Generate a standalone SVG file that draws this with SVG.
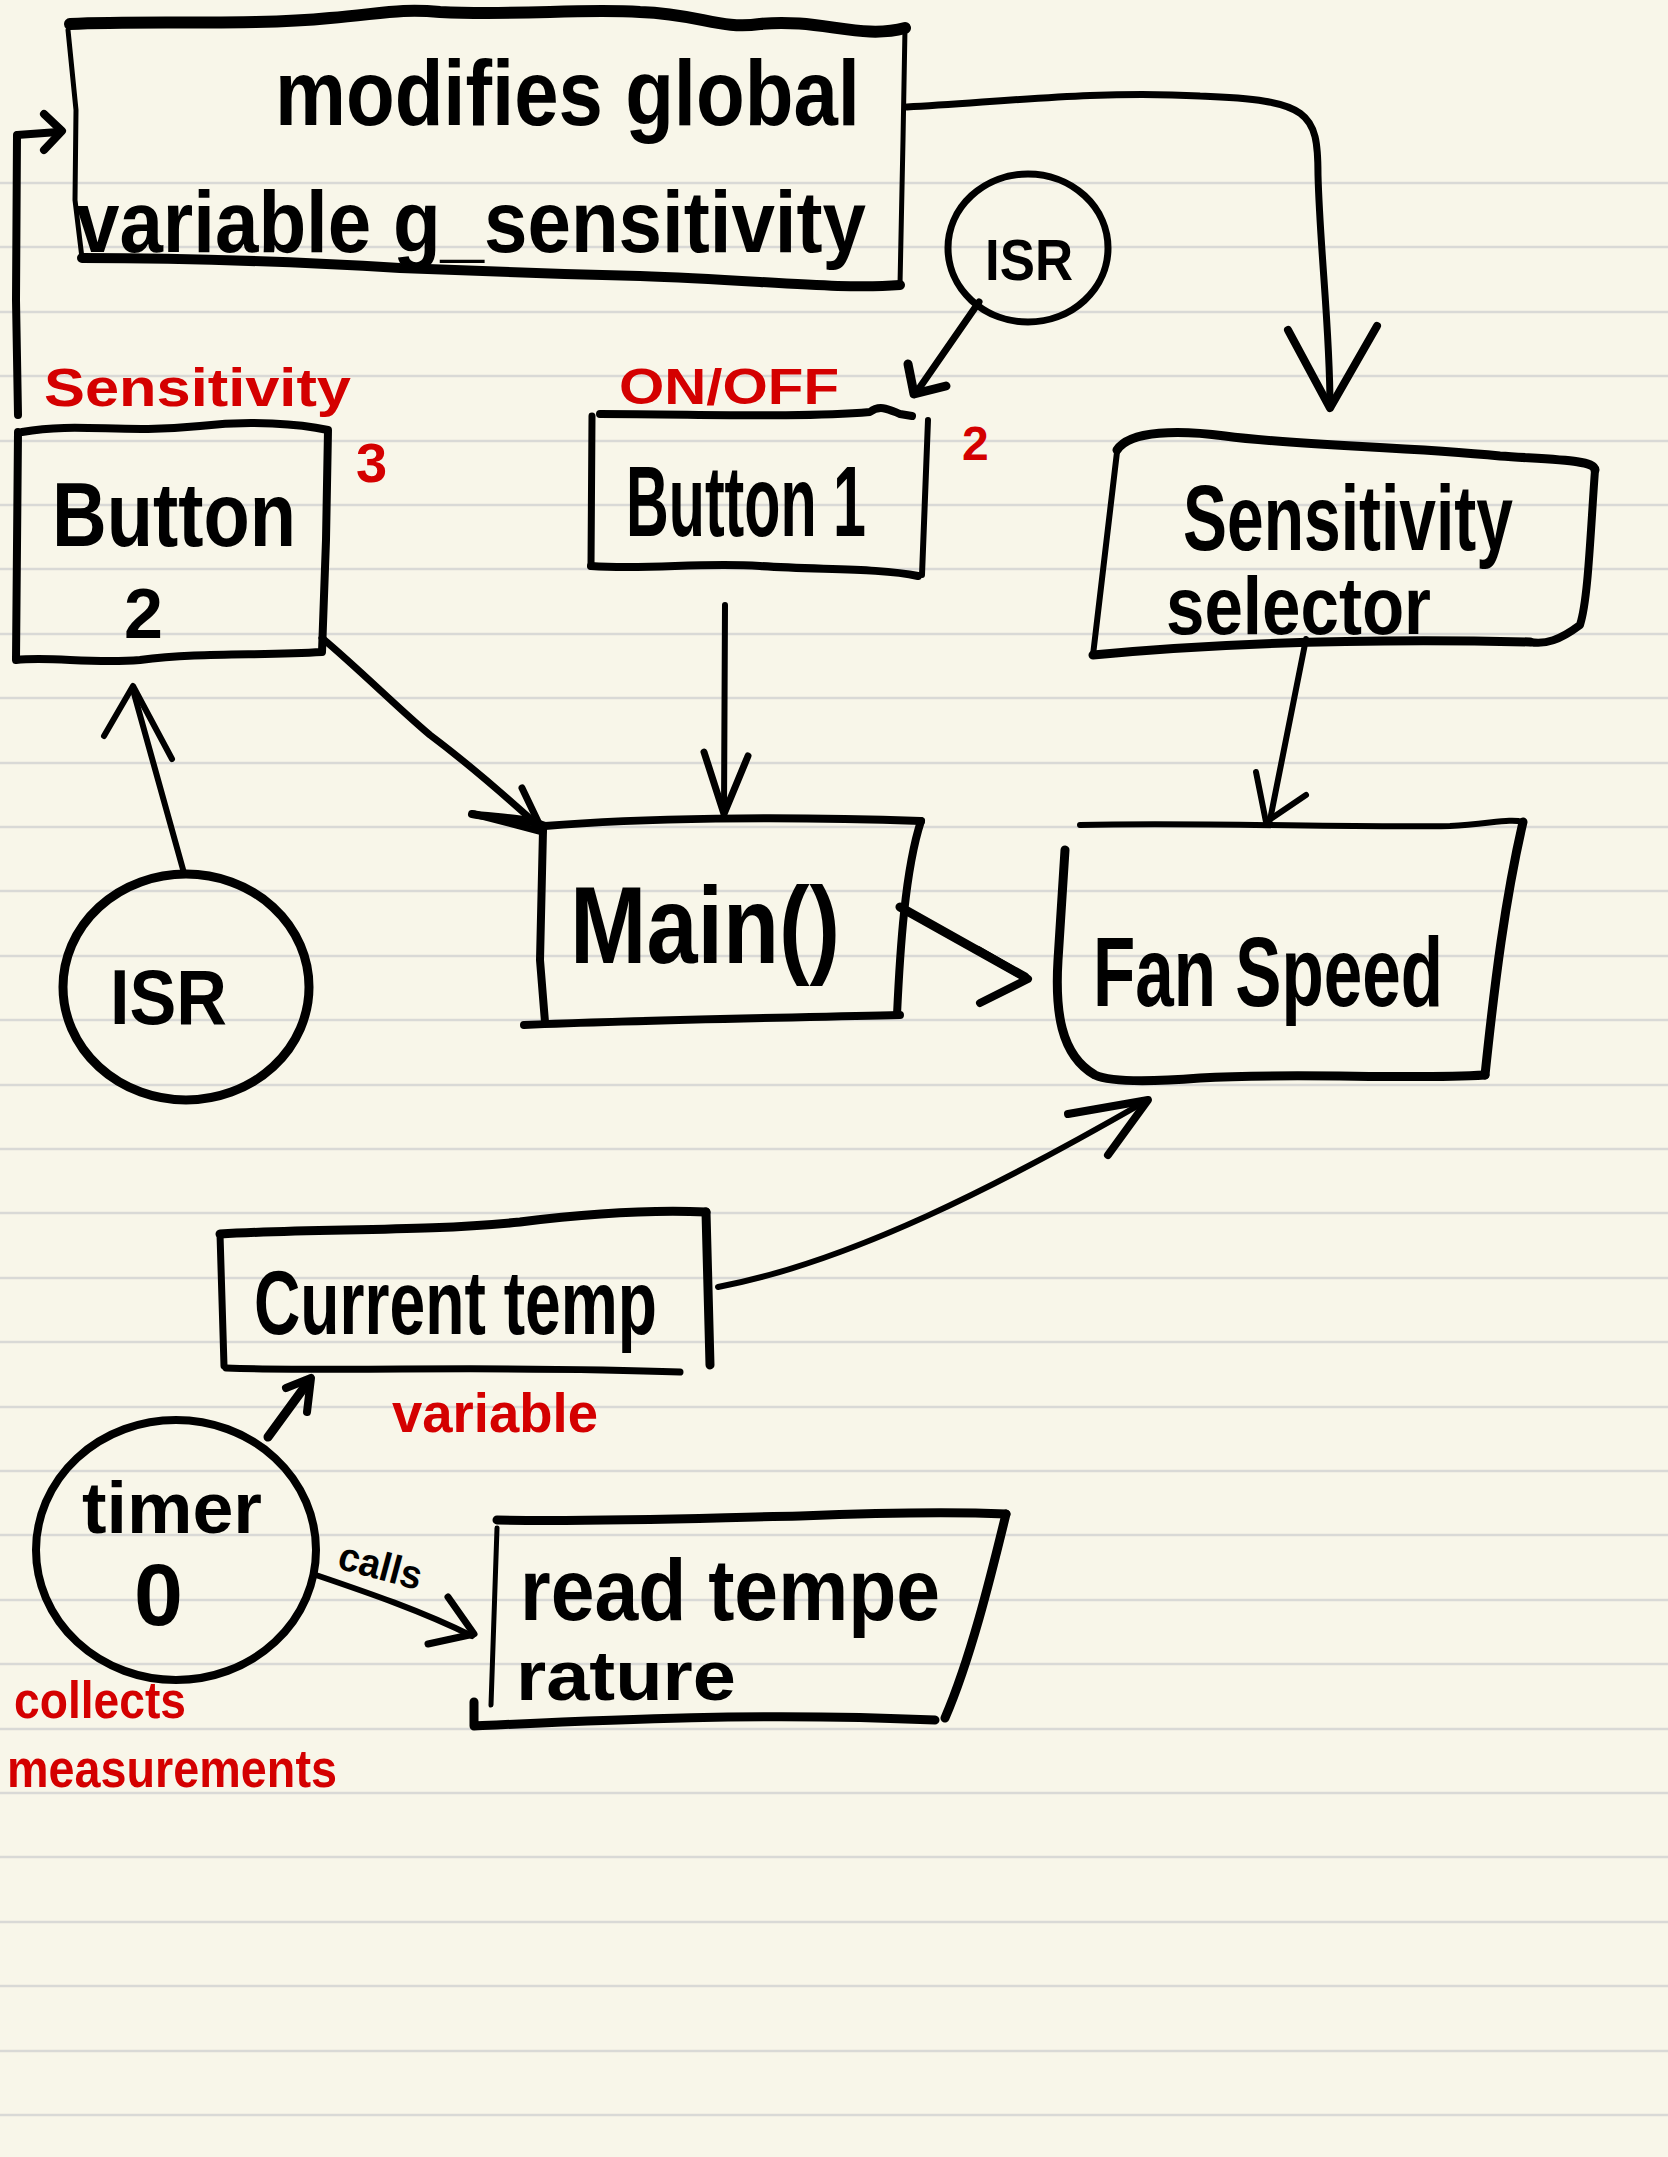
<svg xmlns="http://www.w3.org/2000/svg" width="1668" height="2157" viewBox="0 0 1668 2157">
<style>
.ln{stroke:#d9d9d6;stroke-width:2.5}
.s{fill:none;stroke:#000;stroke-linecap:round;stroke-linejoin:round}
.t{font-family:"Liberation Sans",Arial,sans-serif;fill:#000;font-weight:bold}
.r{font-family:"Liberation Sans",Arial,sans-serif;fill:#d40000;font-weight:bold}
</style>
<rect width="1668" height="2157" fill="#f8f6e9"/>
<g id="paper-lines">
<line class="ln" x1="0" y1="183" x2="1668" y2="183"/><line class="ln" x1="0" y1="247" x2="1668" y2="247"/><line class="ln" x1="0" y1="312" x2="1668" y2="312"/><line class="ln" x1="0" y1="376" x2="1668" y2="376"/><line class="ln" x1="0" y1="441" x2="1668" y2="441"/><line class="ln" x1="0" y1="505" x2="1668" y2="505"/><line class="ln" x1="0" y1="569" x2="1668" y2="569"/><line class="ln" x1="0" y1="634" x2="1668" y2="634"/><line class="ln" x1="0" y1="698" x2="1668" y2="698"/><line class="ln" x1="0" y1="763" x2="1668" y2="763"/><line class="ln" x1="0" y1="827" x2="1668" y2="827"/><line class="ln" x1="0" y1="891" x2="1668" y2="891"/><line class="ln" x1="0" y1="956" x2="1668" y2="956"/><line class="ln" x1="0" y1="1020" x2="1668" y2="1020"/><line class="ln" x1="0" y1="1085" x2="1668" y2="1085"/><line class="ln" x1="0" y1="1149" x2="1668" y2="1149"/><line class="ln" x1="0" y1="1213" x2="1668" y2="1213"/><line class="ln" x1="0" y1="1278" x2="1668" y2="1278"/><line class="ln" x1="0" y1="1342" x2="1668" y2="1342"/><line class="ln" x1="0" y1="1407" x2="1668" y2="1407"/><line class="ln" x1="0" y1="1471" x2="1668" y2="1471"/><line class="ln" x1="0" y1="1535" x2="1668" y2="1535"/><line class="ln" x1="0" y1="1600" x2="1668" y2="1600"/><line class="ln" x1="0" y1="1664" x2="1668" y2="1664"/><line class="ln" x1="0" y1="1729" x2="1668" y2="1729"/><line class="ln" x1="0" y1="1793" x2="1668" y2="1793"/><line class="ln" x1="0" y1="1857" x2="1668" y2="1857"/><line class="ln" x1="0" y1="1922" x2="1668" y2="1922"/><line class="ln" x1="0" y1="1986" x2="1668" y2="1986"/><line class="ln" x1="0" y1="2051" x2="1668" y2="2051"/><line class="ln" x1="0" y1="2115" x2="1668" y2="2115"/>
</g>
<g id="connectors">
<path class="s" stroke-width="8" d="M18,415 L16,300 L17,135 L58,132"/>
<path class="s" stroke-width="8" d="M44,114 L62,131 L44,150"/>
<path class="s" stroke-width="7" d="M907,107 C1000,102 1100,90 1200,96 C1310,100 1318,112 1318,175 C1320,250 1330,330 1330,406"/>
<path class="s" stroke-width="8" d="M1288,330 L1330,408 L1377,326"/>
<path class="s" stroke-width="7" d="M979,302 L918,390"/>
<path class="s" stroke-width="9" d="M908,364 L914,394 L946,386"/>
<path class="s" stroke-width="6" d="M725,605 L724,812"/>
<path class="s" stroke-width="7" d="M704,752 L724,814 L748,756"/>
<path class="s" stroke-width="7" d="M322,638 C360,670 400,710 430,735 C470,765 510,800 543,830"/>
<path class="s" stroke-width="7" d="M474,814 L543,832 L522,788"/>
<path class="s" stroke-width="6" d="M184,873 L133,690"/>
<path class="s" stroke-width="6" d="M104,736 L133,686 L172,759"/>
<path class="s" stroke-width="9" d="M900,907 L1025,977"/>
<path class="s" stroke-width="8" d="M978,950 L1028,979 L980,1003"/>
<path class="s" stroke-width="6" d="M1306,639 L1270,820"/>
<path class="s" stroke-width="6" d="M1256,772 L1266,822 L1306,795"/>
<path class="s" stroke-width="6" d="M718,1287 C850,1262 1000,1185 1146,1101"/>
<path class="s" stroke-width="8" d="M1068,1114 L1148,1100 L1108,1155"/>
<path class="s" stroke-width="9" d="M268,1437 L306,1385"/>
<path class="s" stroke-width="8" d="M286,1388 L311,1378 L307,1412"/>
<path class="s" stroke-width="6" d="M313,1574 C360,1590 420,1610 472,1636"/>
<path class="s" stroke-width="7" d="M448,1597 L474,1634 L428,1644"/>
<text class="t" font-weight="normal" font-size="40" transform="translate(336,1568) rotate(15)" textLength="85" lengthAdjust="spacingAndGlyphs">calls</text>
</g>
<g id="node-global">
<path class="s" stroke-width="12" d="M70,24 C150,20 250,26 330,18 C380,14 400,8 440,12 C520,16 580,8 640,12 C700,14 720,30 760,24 C820,18 860,40 905,28"/>
<path class="s" stroke-width="5" d="M905,28 L903,140 L900,285"/>
<path class="s" stroke-width="10" d="M82,258 C200,258 300,262 400,268 C500,272 560,274 640,276 C760,280 840,290 900,285"/>
<path class="s" stroke-width="5" d="M68,30 L76,110 L75,200 L82,258"/>
<text class="t" font-size="92" x="275" y="125" textLength="585" lengthAdjust="spacingAndGlyphs">modifies global</text>
<text class="t" font-size="88" x="76" y="252" textLength="790" lengthAdjust="spacingAndGlyphs">variable g_sensitivity</text>
</g>
<g id="node-isr-top">
<ellipse class="s" stroke-width="7" cx="1028" cy="248" rx="80" ry="74"/>
<text class="t" font-weight="normal" font-size="58" x="985" y="280" textLength="88" lengthAdjust="spacingAndGlyphs">ISR</text>
</g>
<g id="node-button1">
<path class="s" stroke-width="8" d="M600,414 C700,414 800,418 870,412 C880,404 890,410 900,414 L912,416"/>
<path class="s" stroke-width="7" d="M592,416 L591,566"/>
<path class="s" stroke-width="6" d="M928,420 L922,575"/>
<path class="s" stroke-width="8" d="M591,566 C650,570 700,562 760,566 C820,570 880,568 918,576"/>
<text class="t" font-weight="normal" font-size="75" transform="translate(626,536) scale(1,1.333)" textLength="240" lengthAdjust="spacingAndGlyphs">Button 1</text>
<text class="r" font-size="50" x="619" y="404" textLength="220" lengthAdjust="spacingAndGlyphs">ON/OFF</text>
<text class="r" font-size="48" x="962" y="460">2</text>
</g>
<g id="node-button2">
<path class="s" stroke-width="8" d="M22,432 C80,422 120,434 200,426 C250,420 300,424 328,430 L326,540 L322,652 C260,656 200,652 140,660 C90,664 50,656 16,660 L18,432"/>
<text class="t" font-weight="normal" font-size="90" x="52" y="546" textLength="244" lengthAdjust="spacingAndGlyphs">Button</text>
<text class="t" font-size="70" x="124" y="638">2</text>
<text class="r" font-size="54" x="44" y="406" textLength="307" lengthAdjust="spacingAndGlyphs">Sensitivity</text>
<text class="r" font-size="56" x="356" y="482">3</text>
</g>
<g id="node-isr-left">
<ellipse class="s" stroke-width="9" cx="186" cy="987" rx="123" ry="113"/>
<text class="t" font-weight="normal" font-size="78" x="110" y="1024" textLength="117" lengthAdjust="spacingAndGlyphs">ISR</text>
</g>
<g id="node-main">
<path class="s" stroke-width="8" d="M472,814 C490,818 520,816 545,826 C640,818 780,816 921,821"/>
<path class="s" stroke-width="8" d="M543,830 L540,960 L545,1022"/>
<path class="s" stroke-width="8" d="M921,821 C905,870 900,950 897,1015"/>
<path class="s" stroke-width="8" d="M524,1025 C640,1020 780,1018 900,1015"/>
<text class="t" font-weight="normal" font-size="110" x="570" y="963" textLength="270" lengthAdjust="spacingAndGlyphs">Main()</text>
</g>
<g id="node-sensitivity-selector">
<path class="s" stroke-width="9" d="M1117,450 C1130,430 1180,430 1225,436 C1300,446 1400,446 1500,456 C1560,460 1594,460 1595,470"/>
<path class="s" stroke-width="8" d="M1595,470 C1590,540 1588,600 1580,625 C1560,640 1545,645 1530,642"/>
<path class="s" stroke-width="9" d="M1093,655 C1200,645 1350,638 1530,642"/>
<path class="s" stroke-width="6" d="M1117,452 L1093,655"/>
<text class="t" font-weight="normal" font-size="92" x="1183" y="550" textLength="330" lengthAdjust="spacingAndGlyphs">Sensitivity</text>
<text class="t" font-weight="normal" font-size="82" x="1166" y="634" textLength="265" lengthAdjust="spacingAndGlyphs">selector</text>
</g>
<g id="node-fan-speed">
<path class="s" stroke-width="6" d="M1080,825 C1200,822 1350,828 1450,826 C1490,824 1510,818 1523,822"/>
<path class="s" stroke-width="9" d="M1523,822 C1505,900 1495,980 1485,1075"/>
<path class="s" stroke-width="9" d="M1485,1075 C1400,1080 1300,1072 1200,1078 C1150,1082 1110,1082 1095,1075 C1060,1055 1055,1010 1058,960 L1065,850"/>
<text class="t" font-weight="normal" font-size="98" x="1093" y="1006" textLength="350" lengthAdjust="spacingAndGlyphs">Fan Speed</text>
</g>
<g id="node-current-temp">
<path class="s" stroke-width="9" d="M220,1234 C320,1228 420,1232 520,1222 C600,1212 660,1210 706,1212"/>
<path class="s" stroke-width="9" d="M706,1212 L710,1365"/>
<path class="s" stroke-width="7" d="M220,1234 L224,1366"/>
<path class="s" stroke-width="7" d="M226,1368 C350,1372 500,1365 680,1372"/>
<text class="t" font-weight="normal" font-size="90" x="254" y="1334" textLength="403" lengthAdjust="spacingAndGlyphs">Current temp</text>
<text class="r" font-size="56" x="392" y="1432" textLength="206" lengthAdjust="spacingAndGlyphs">variable</text>
</g>
<g id="node-timer">
<ellipse class="s" stroke-width="8" cx="176" cy="1550" rx="140" ry="130"/>
<text class="t" font-weight="normal" font-size="72" x="82" y="1533" textLength="180" lengthAdjust="spacingAndGlyphs">timer</text>
<text class="t" font-weight="normal" font-size="88" x="134" y="1625">0</text>
<text class="r" font-size="52" x="14" y="1718" textLength="172" lengthAdjust="spacingAndGlyphs">collects</text>
<text class="r" font-size="54" x="7" y="1787" textLength="330" lengthAdjust="spacingAndGlyphs">measurements</text>
</g>
<g id="node-read-temperature">
<path class="s" stroke-width="9" d="M497,1520 C600,1522 700,1518 800,1516 C900,1512 960,1512 1006,1514"/>
<path class="s" stroke-width="9" d="M1006,1514 C990,1580 970,1660 945,1718"/>
<path class="s" stroke-width="9" d="M474,1702 L474,1726 C600,1720 760,1712 935,1720"/>
<path class="s" stroke-width="5" d="M497,1528 L491,1705"/>
<text class="t" font-weight="normal" font-size="88" x="520" y="1620" textLength="420" lengthAdjust="spacingAndGlyphs">read tempe</text>
<text class="t" font-weight="normal" font-size="70" x="516" y="1700" textLength="220" lengthAdjust="spacingAndGlyphs">rature</text>
</g>
</svg>
